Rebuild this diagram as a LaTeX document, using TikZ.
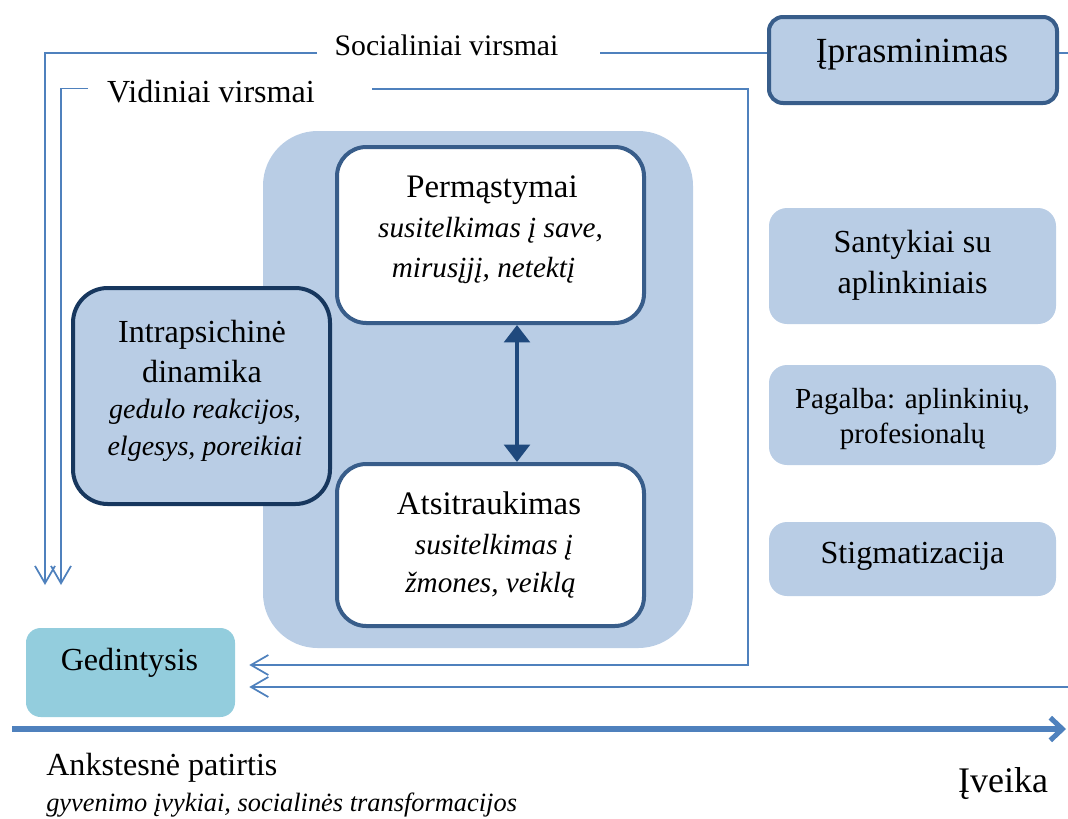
\documentclass[tikz,border=0pt]{standalone}
\usepackage{fontspec}
\setmainfont{Liberation Serif}
\usetikzlibrary{arrows.meta,calc}
\definecolor{lineblue}{HTML}{4F81BD}
\definecolor{lightfill}{HTML}{B9CDE5}
\definecolor{borderblue}{HTML}{385D8A}
\definecolor{navy}{HTML}{17375E}
\definecolor{arrowblue}{HTML}{1F497D}
\definecolor{tealfill}{HTML}{93CDDD}
\tikzset{
  mtext/.style={font=\fontsize{24.1}{28}\selectfont, inner sep=0pt, anchor=base},
  itext/.style={font=\fontsize{21.9}{26}\selectfont\itshape, inner sep=0pt, anchor=base},
  jtext/.style={font=\fontsize{21}{25}\selectfont\itshape, inner sep=0pt, anchor=base},
  stext/.style={font=\fontsize{21.8}{26}\selectfont, inner sep=0pt, anchor=base},
  btext/.style={font=\fontsize{27}{32}\selectfont, inner sep=0pt, anchor=base},
  rbox/.style={fill=lightfill, rounded corners=13.5pt, inner sep=0pt, minimum width=215.25pt},
  conn/.style={draw=lineblue, line width=1.3pt},
  barb/.style={-{Straight Barb[length=13pt,width=15pt]}},
}
\begin{document}
\begin{tikzpicture}[x=0.75pt,y=-0.75pt]
\useasboundingbox (0,0) rectangle (1068,818);

% background panel
\node[fill=lightfill, rounded corners=41pt, inner sep=0pt, minimum width=322.5pt, minimum height=387.75pt] (panel) at (478,389.5) {};

% boxes
\node[fill=lightfill, draw=borderblue, line width=3pt, rounded corners=10.5pt, inner sep=0pt, minimum width=216pt, minimum height=64.5pt] (ipr) at (913,60) {};
\node[fill=white, draw=borderblue, line width=3pt, rounded corners=22pt, inner sep=0pt, minimum width=230.25pt, minimum height=132pt] (perm) at (490.5,235) {};
\node[fill=white, draw=borderblue, line width=3pt, rounded corners=22pt, inner sep=0pt, minimum width=230.25pt, minimum height=121.5pt] (atsi) at (490.5,545) {};
\node[fill=lightfill, draw=navy, line width=3pt, rounded corners=26pt, inner sep=0pt, minimum width=192.75pt, minimum height=162pt] (intra) at (201.5,396) {};
\node[rbox, minimum height=87pt] (sant) at (912.5,266) {};
\node[rbox, minimum height=75pt] (pag) at (912.5,415) {};
\node[rbox, minimum height=55.5pt] (stig) at (912.5,559) {};
\node[fill=tealfill, rounded corners=11pt, inner sep=0pt, minimum width=156.75pt, minimum height=66.75pt] (ged) at (130.5,672.5) {};

% texts in boxes
\node[mtext, font=\fontsize{26.5}{30}\selectfont] (iprT) at (912,62) {Įprasminimas};
\node[mtext, font=\fontsize{24.6}{29}\selectfont] (permT1) at (492,197) {Permąstymai};
\node[itext] (permT2) at (490.5,237) {susitelkimas į save,};
\node[itext] (permT3) at (483.5,277) {mirusįjį, netektį};
\node[mtext, font=\fontsize{24.6}{29}\selectfont] (atsiT1) at (489,514) {Atsitraukimas};
\node[itext] (atsiT2) at (494,554) {susitelkimas į};
\node[itext] (atsiT3) at (490.5,592) {žmones, veiklą};
\node[mtext] (intraT1) at (202,342) {Intrapsichinė};
\node[mtext] (intraT2) at (202,382) {dinamika};
\node[jtext] (intraT3) at (205,418) {gedulo reakcijos,};
\node[jtext] (intraT4) at (205,455) {elgesys, poreikiai};
\node[mtext] (santT1) at (912.5,252) {Santykiai su};
\node[mtext] (santT2) at (912.5,293) {aplinkiniais};
\node[stext] (pagT1) at (912.5,408) {Pagalba: aplinkinių,};
\node[stext] (pagT2) at (912.5,443) {profesionalų};
\node[mtext] (stigT) at (912.5,563) {Stigmatizacija};
\node[mtext] (gedT) at (129.5,670) {Gedintysis};

% free texts
\node[mtext, font=\fontsize{22.3}{27}\selectfont] (soc) at (446.5,55) {Socialiniai virsmai};
\node[mtext] (vid) at (211,102) {Vidiniai virsmai};
\node[mtext, anchor=base west] (ank) at (46,775) {Ankstesnė patirtis};
\node[anchor=base west, inner sep=0pt, font=\fontsize{19.8}{24}\selectfont\itshape] (gyv) at (46,811) {gyvenimo įvykiai, socialinės transformacijos};
\node[btext] (iveika) at (1003,792) {Įveika};

% coordinates for connectors
\coordinate (s1) at (317,53);
\coordinate (s2) at (45,585);
\coordinate (s3) at (600,53);
\coordinate (s4) at (1068,53);
\coordinate (s5) at (1068,687);
\coordinate (v1) at (88,88.5);
\coordinate (v2) at (61,585);
\coordinate (v3) at (372,89);
\coordinate (v4) at (748,665);
\coordinate (ax) at (517,0);
\coordinate (a1) at (12,729);
\coordinate (a2) at (1066,729);

% social transitions
\draw[conn, barb] (s1) -| (s2);
\draw[conn] (s3) -- (s3 -| ipr.west);
\draw[conn] (s3 -| ipr.east) -- (s4);
\draw[conn, barb, shorten >=10.5pt] (s5) -- (s5 -| ged.east);

% inner transitions
\draw[conn, barb] (v1) -| (v2);
\draw[conn, barb, shorten >=10.5pt] (v3) -| (v4) -- (v4 -| ged.east);

% double arrow
\draw[arrowblue, line width=3.6pt, {Triangle[length=13pt,width=19pt]}-{Triangle[length=13pt,width=19pt]}] (perm.south -| ax) -- (atsi.north -| ax);

% time axis
\draw[lineblue, line width=3.8pt, -{Straight Barb[length=9pt,width=17pt]}] (a1) -- (a2);
\end{tikzpicture}
\end{document}
